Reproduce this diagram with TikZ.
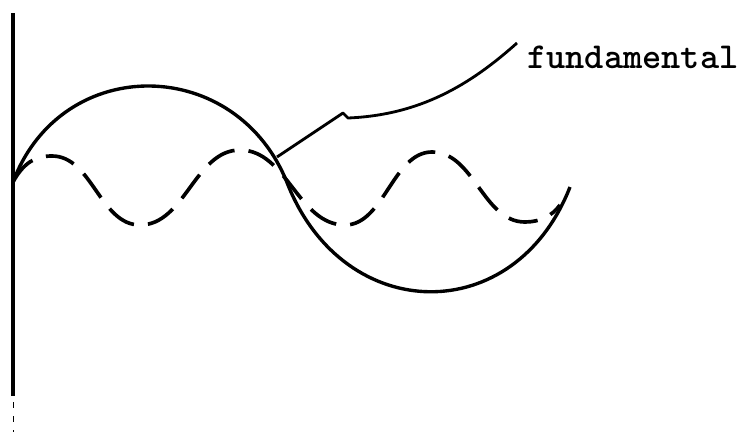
\documentclass[tikz,border=0pt]{standalone}
\usepackage{fontspec}
\tikzset{
  axis/.style={line width=2.8pt},
  fund/.style={line width=2.4pt},
  harm/.style={line width=2.6pt, dash pattern=on 21pt off 10pt},
  leader/.style={line width=2pt, line join=round},
}
\begin{document}
\begin{tikzpicture}[x=0.025cm, y=-0.025cm]
  \useasboundingbox (0,0) rectangle (742,435);
  % axis
  \coordinate (top) at (13,13);
  \coordinate (bot) at (13,396);
  \draw[axis] (top) -- (bot);
  \draw[line width=0.6pt, dash pattern=on 4pt off 6pt] (13,402) -- (13,432);
  % fundamental
  \coordinate (A) at (13,182);
  \coordinate (M) at (288,185);
  \coordinate (E) at (570,187);
  \draw[fund] (A) .. controls (62,52) and (238,55) .. (M)
              .. controls (345,326) and (515,328) .. (E);
  % second harmonic
  \draw[harm] (13,182) .. controls (24,162) and (36,156) .. (52,156)
    .. controls (92,156) and (100,225) .. (140,225)
    .. controls (185,225) and (195,150) .. (240,150)
    .. controls (287,150) and (298,225) .. (345,225)
    .. controls (384,225) and (393,152) .. (432,152)
    .. controls (474,152) and (483,222) .. (525,222)
    .. controls (540,222) and (552,216) .. (560,205);
  % label
  \node[anchor=west, inner sep=0pt, font={\ttfamily\bfseries\fontsize{26}{30}\selectfont}] (label) at (527,57) {fundamental};
  \coordinate (tip) at (277,157);
  \coordinate (kink) at (343,113);
  \coordinate (hook) at (348,118);
  \coordinate (lead) at ([shift={(-10,-14)}]label.west);
  \draw[leader] (tip) -- (kink) -- (hook) .. controls (420,115) and (470,85) .. (lead);
\end{tikzpicture}
\end{document}
